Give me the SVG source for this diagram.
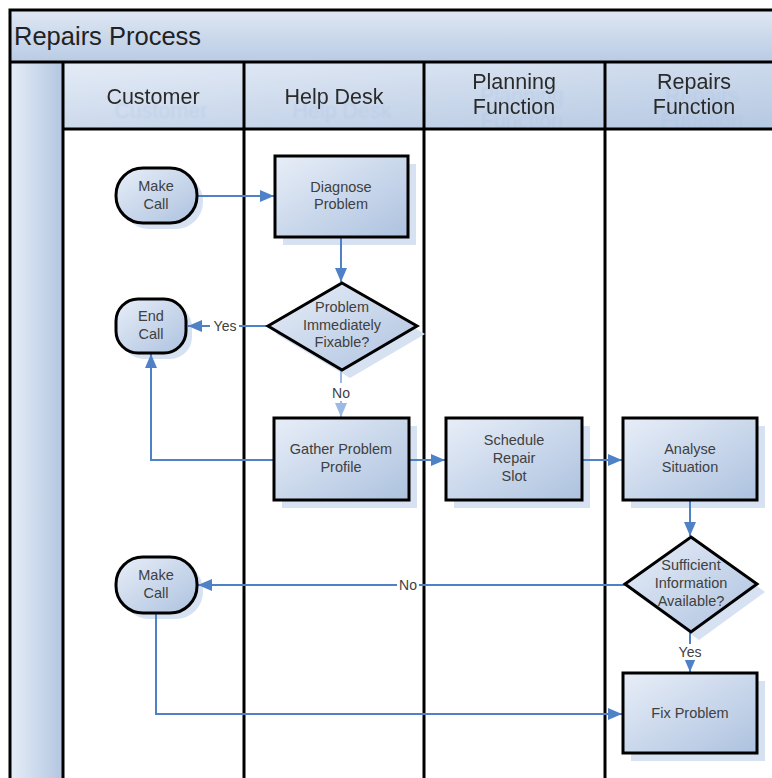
<svg xmlns="http://www.w3.org/2000/svg" width="772" height="778" viewBox="0 0 772 778">
  <defs>
    <linearGradient id="nodeFill" x1="0" y1="0" x2="1" y2="1">
      <stop offset="0" stop-color="#e8eef8"/>
      <stop offset="1" stop-color="#adc2df"/>
    </linearGradient>
    <linearGradient id="bandFill" x1="0" y1="0" x2="0" y2="1">
      <stop offset="0" stop-color="#dfe7f3"/>
      <stop offset="1" stop-color="#b9cbe4"/>
    </linearGradient>
    <linearGradient id="headFill" x1="0" y1="0" x2="1" y2="1">
      <stop offset="0" stop-color="#e4ebf6"/>
      <stop offset="1" stop-color="#b5c8e2"/>
    </linearGradient>
    <linearGradient id="stripFill" x1="0" y1="0" x2="1" y2="0">
      <stop offset="0" stop-color="#e6edf7"/>
      <stop offset="1" stop-color="#b3c6e1"/>
    </linearGradient>
    <clipPath id="headClip">
      <rect x="63" y="63" width="720" height="66"/>
    </clipPath>
    <filter id="ghost" x="-10%" y="-20%" width="130%" height="180%">
      <feOffset in="SourceAlpha" dx="8" dy="14" result="off"/>
      <feGaussianBlur in="off" stdDeviation="1.2" result="blur"/>
      <feFlood flood-color="#a9c1e3" flood-opacity="0.4"/>
      <feComposite in2="blur" operator="in" result="shadow"/>
      <feMerge>
        <feMergeNode in="shadow"/>
        <feMergeNode in="SourceGraphic"/>
      </feMerge>
    </filter>
    <marker id="arrow" viewBox="0 0 14 12" refX="14" refY="6" markerWidth="14" markerHeight="12" markerUnits="userSpaceOnUse" orient="auto">
      <path d="M0,0 L14,6 L0,12 z" fill="#4f81c7"/>
    </marker>
    <marker id="arrowPale" viewBox="0 0 14 12" refX="14" refY="6" markerWidth="14" markerHeight="12" markerUnits="userSpaceOnUse" orient="auto">
      <path d="M0,0 L14,6 L0,12 z" fill="#9bb9e2"/>
    </marker>
    <style>
      .lane { stroke: #000; stroke-width: 3; fill: none; }
      .node { fill: url(#nodeFill); stroke: #000; stroke-width: 3; }
      .shadow { fill: #d6e1f1; stroke: none; }
      .label { font-family: "Liberation Sans", Arial, sans-serif; font-size: 14.5px; fill: #404040; text-anchor: middle; }
      .head { font-family: "Liberation Sans", Arial, sans-serif; font-size: 21.5px; fill: #2a2a2a; text-anchor: middle; filter: url(#ghost); }
      .title { font-family: "Liberation Sans", Arial, sans-serif; font-size: 25.5px; fill: #222; }
      .conn { stroke: #4f81c7; stroke-width: 2; fill: none; }
      .pale { stroke: #9bb9e2; stroke-width: 2; fill: none; }
      .cl { font-family: "Liberation Sans", Arial, sans-serif; font-size: 14px; fill: #404040; text-anchor: middle; }
    </style>
  </defs>

  <rect width="772" height="778" fill="#fff"/>

  <!-- pool frame, title band and lane headers -->
  <g id="pool">
    <rect x="10" y="10" width="770" height="52" fill="url(#bandFill)"/>
    <rect x="10" y="62" width="53" height="720" fill="url(#stripFill)"/>
    <rect x="63" y="63" width="720" height="66" fill="url(#headFill)"/>
    <text class="title" x="14" y="45">Repairs Process</text>
  </g>

  <g id="lane-headers" clip-path="url(#headClip)">
    <g id="lane-customer"><text class="head" x="153" y="104">Customer</text></g>
    <g id="lane-helpdesk"><text class="head" x="334" y="104">Help Desk</text></g>
    <g id="lane-planning"><text class="head" x="514" y="89">Planning<tspan x="514" dy="25">Function</tspan></text></g>
    <g id="lane-repairs"><text class="head" x="694" y="89">Repairs<tspan x="694" dy="25">Function</tspan></text></g>
  </g>

  <g id="lane-lines">
    <path class="lane" d="M10,782 V10 H780"/>
    <path class="lane" d="M10,62 H780"/>
    <path class="lane" d="M63,129 H780"/>
    <path class="lane" d="M63,62 V782"/>
    <path class="lane" d="M244,62 V782"/>
    <path class="lane" d="M424,62 V782"/>
    <path class="lane" d="M605,62 V782"/>
  </g>

  <!-- soft drop shadows beneath the shapes -->
  <g id="shadows">
    <rect class="shadow" x="122" y="174" width="81" height="55" rx="27"/>
    <rect class="shadow" x="283" y="164" width="133" height="81"/>
    <polygon class="shadow" points="350,291 425,334 350,378 276,334"/>
    <rect class="shadow" x="122" y="305" width="70" height="54" rx="22"/>
    <rect class="shadow" x="282" y="426" width="135" height="82"/>
    <rect class="shadow" x="454" y="426" width="136" height="82"/>
    <rect class="shadow" x="631" y="426" width="134" height="82"/>
    <polygon class="shadow" points="699,545 765,592 699,640 633,592"/>
    <rect class="shadow" x="631" y="681" width="134" height="80"/>
    <rect class="shadow" x="122" y="563" width="81" height="56" rx="27"/>
  </g>

  <!-- connectors -->
  <g id="connectors">
    <path class="conn" d="M197,196 H274" marker-end="url(#arrow)"/>
    <path class="conn" d="M341,237 V282" marker-end="url(#arrow)"/>
    <path class="conn" d="M268,326 H188" marker-end="url(#arrow)"/>
    <rect x="210" y="318" width="29" height="16" fill="#fff"/>
    <text class="cl" x="225" y="331">Yes</text>
    <path class="pale" d="M341,370 V383"/>
    <path class="pale" d="M341,401 V417" marker-end="url(#arrowPale)"/>
    <text class="cl" x="341" y="398">No</text>
    <path class="conn" d="M274,460 H151 V354" marker-end="url(#arrow)"/>
    <path class="conn" d="M409,460 H445" marker-end="url(#arrow)"/>
    <path class="conn" d="M582,460 H622" marker-end="url(#arrow)"/>
    <path class="conn" d="M690,500 V536" marker-end="url(#arrow)"/>
    <path class="conn" d="M625,585 H198" marker-end="url(#arrow)"/>
    <rect x="397" y="577" width="22" height="16" fill="#fff"/>
    <text class="cl" x="408" y="590">No</text>
    <path class="conn" d="M690,632 V672" marker-end="url(#arrow)"/>
    <rect x="675" y="644" width="30" height="16" fill="#fff"/>
    <text class="cl" x="690" y="657">Yes</text>
    <path class="conn" d="M156,613 V714 H622" marker-end="url(#arrow)"/>
  </g>

  <!-- nodes -->
  <g id="make-call-1">
    <rect class="node" x="116" y="168" width="81" height="55" rx="27"/>
    <text class="label" x="156" y="191">Make<tspan x="156" dy="18">Call</tspan></text>
  </g>
  <g id="diagnose-problem">
    <rect class="node" x="275" y="156" width="133" height="81"/>
    <text class="label" x="341" y="192">Diagnose<tspan x="341" dy="17">Problem</tspan></text>
  </g>
  <g id="fixable-decision">
    <polygon class="node" points="342,283 417,326 342,370 268,326"/>
    <text class="label" x="342" y="312">Problem<tspan x="342" dy="18">Immediately</tspan><tspan x="342" dy="17">Fixable?</tspan></text>
  </g>
  <g id="end-call">
    <rect class="node" x="116" y="299" width="70" height="54" rx="22"/>
    <text class="label" x="151" y="321">End<tspan x="151" dy="18">Call</tspan></text>
  </g>
  <g id="gather-profile">
    <rect class="node" x="274" y="418" width="135" height="82"/>
    <text class="label" x="341" y="454">Gather Problem<tspan x="341" dy="18">Profile</tspan></text>
  </g>
  <g id="schedule-slot">
    <rect class="node" x="446" y="418" width="136" height="82"/>
    <text class="label" x="514" y="445">Schedule<tspan x="514" dy="18">Repair</tspan><tspan x="514" dy="18">Slot</tspan></text>
  </g>
  <g id="analyse-situation">
    <rect class="node" x="623" y="418" width="134" height="82"/>
    <text class="label" x="690" y="454">Analyse<tspan x="690" dy="18">Situation</tspan></text>
  </g>
  <g id="sufficient-decision">
    <polygon class="node" points="691,537 757,584 691,632 625,584"/>
    <text class="label" x="691" y="570">Sufficient<tspan x="691" dy="18">Information</tspan><tspan x="691" dy="18">Available?</tspan></text>
  </g>
  <g id="fix-problem">
    <rect class="node" x="623" y="673" width="134" height="80"/>
    <text class="label" x="690" y="718">Fix Problem</text>
  </g>
  <g id="make-call-2">
    <rect class="node" x="116" y="557" width="81" height="56" rx="27"/>
    <text class="label" x="156" y="580">Make<tspan x="156" dy="18">Call</tspan></text>
  </g>
</svg>
